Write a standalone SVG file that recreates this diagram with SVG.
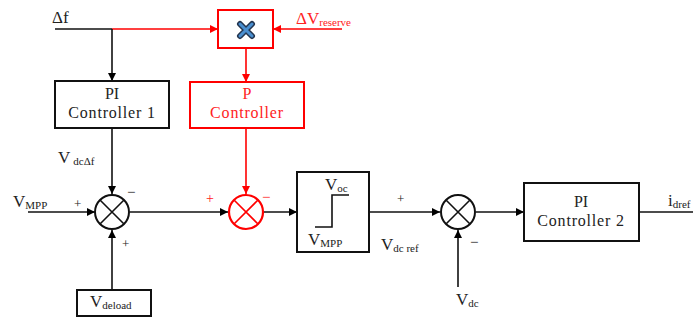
<svg xmlns="http://www.w3.org/2000/svg" width="693" height="320" viewBox="0 0 693 320">
<defs>
<marker id="ab" viewBox="0 0 10 10" refX="10" refY="5" markerWidth="8" markerHeight="8" markerUnits="userSpaceOnUse" orient="auto"><path d="M0,0 L10,5 L0,10 Z" fill="#000"/></marker>
<marker id="ar" viewBox="0 0 10 10" refX="10" refY="5" markerWidth="8" markerHeight="8" markerUnits="userSpaceOnUse" orient="auto"><path d="M0,0 L10,5 L0,10 Z" fill="#f00"/></marker>
</defs>
<style>
text{font-family:'Liberation Serif','DejaVu Serif','Times New Roman',serif;font-size:17px;fill:#222}
.r{fill:#f22}
.sub{font-size:11px}
.c{text-anchor:middle}
.box{fill:#fff;stroke:#111;stroke-width:2}
.rbox{fill:#fff;stroke:#f00;stroke-width:2}
.ln{fill:none;stroke:#111;stroke-width:1.6}
.rl{fill:none;stroke:#f00;stroke-width:1.6}
.sum{fill:#fff;stroke:#111;stroke-width:2}
.rsum{fill:#fff;stroke:#f00;stroke-width:2.2}
</style>
<rect width="693" height="320" fill="#fff"/>
<g id="connectors">
<line class="ln" x1="55" y1="29" x2="112" y2="29"/>
<line class="rl" x1="112" y1="29" x2="218" y2="29" marker-end="url(#ar)"/>
<line class="ln" x1="112" y1="29" x2="112" y2="81" marker-end="url(#ab)"/>
<line class="rl" x1="342" y1="29" x2="273" y2="29" marker-end="url(#ar)"/>
<line class="rl" x1="246" y1="48" x2="246" y2="82" marker-end="url(#ar)"/>
<line class="ln" x1="112" y1="128" x2="112" y2="194" marker-end="url(#ab)"/>
<line class="rl" x1="246" y1="128" x2="246" y2="194" marker-end="url(#ar)"/>
<line class="ln" x1="28" y1="212" x2="95" y2="212" marker-end="url(#ab)"/>
<line class="ln" x1="112" y1="290" x2="112" y2="230" marker-end="url(#ab)"/>
<line class="ln" x1="130" y1="212" x2="228" y2="212" marker-end="url(#ab)"/>
<line class="ln" x1="264" y1="212" x2="297" y2="212" marker-end="url(#ab)"/>
<line class="ln" x1="369" y1="212" x2="440" y2="212" marker-end="url(#ab)"/>
<line class="ln" x1="458" y1="287" x2="458" y2="230" marker-end="url(#ab)"/>
<line class="ln" x1="476" y1="212" x2="524" y2="212" marker-end="url(#ab)"/>
<line class="ln" x1="639" y1="212" x2="693" y2="212"/>
</g>
<g id="labels">
<text x="52" y="23">Δf</text>
<text class="r" x="296" y="24">ΔV<tspan class="sub" dy="2">reserve</tspan></text>
<text x="58" y="163">V<tspan class="sub" dx="3" dy="2">dcΔf</tspan></text>
<text x="13" y="207">V<tspan class="sub" dy="2">MPP</tspan></text>
<text x="74" y="208" style="font-size:13px">+</text>
<text x="127" y="197" style="font-size:15px">−</text>
<text x="122" y="248" style="font-size:13px">+</text>
<text class="r" x="206" y="203" style="font-size:14px">+</text>
<text class="r" x="262" y="202" style="font-size:15px">−</text>
<text x="397" y="203" style="font-size:13px">+</text>
<text x="381" y="250">V<tspan class="sub" dy="2">dc ref</tspan></text>
<text x="470" y="247" style="font-size:15px">−</text>
<text x="456" y="305">V<tspan class="sub" dy="2">dc</tspan></text>
<text x="668" y="206">i<tspan class="sub" dy="2">dref</tspan></text>
</g>
<g id="multiplier">
<rect class="rbox" x="218" y="10" width="55" height="38"/>
<path d="M240,24 L252,36 M252,24 L240,36" stroke="#23354f" stroke-width="6" stroke-linecap="round"/>
<path d="M240,24 L252,36 M252,24 L240,36" stroke="#4a8fd0" stroke-width="3" stroke-linecap="round"/>
</g>
<g id="pi1">
<rect class="box" x="55" y="81" width="114" height="47"/>
<text class="c" x="112" y="99" style="font-size:16px">PI</text>
<text class="c" x="112" y="118" style="font-size:16px;letter-spacing:0.8px">Controller 1</text>
</g>
<g id="pctrl">
<rect class="rbox" x="190" y="82" width="114" height="46"/>
<text class="c r" x="247" y="99" style="font-size:16px">P</text>
<text class="c r" x="247" y="118" style="font-size:16px;letter-spacing:0.8px">Controller</text>
</g>
<g id="sum1">
<circle class="sum" cx="112" cy="212" r="17"/>
<path class="ln" d="M100,200 L124,224 M124,200 L100,224"/>
</g>
<g id="sum2">
<circle class="rsum" cx="246" cy="212" r="17"/>
<path class="rl" d="M234,200 L258,224 M258,200 L234,224"/>
</g>
<g id="deload">
<rect class="box" x="77" y="290" width="74" height="26"/>
<text x="90" y="307">V<tspan class="sub" dy="2">deload</tspan></text>
</g>
<g id="limiter">
<rect class="box" x="297" y="172" width="72" height="80"/>
<text x="325" y="190">V<tspan class="sub" dy="2">oc</tspan></text>
<path class="ln" d="M315,227 L332,227 L332,195 L349,195"/>
<text x="308" y="245">V<tspan class="sub" dy="2">MPP</tspan></text>
</g>
<g id="sum3">
<circle class="sum" cx="458" cy="212" r="17"/>
<path class="ln" d="M446,200 L470,224 M470,200 L446,224"/>
</g>
<g id="pi2">
<rect class="box" x="524" y="183" width="115" height="58"/>
<text class="c" x="581" y="207" style="font-size:16px">PI</text>
<text class="c" x="581" y="226" style="font-size:16px;letter-spacing:0.8px">Controller 2</text>
</g>
</svg>
